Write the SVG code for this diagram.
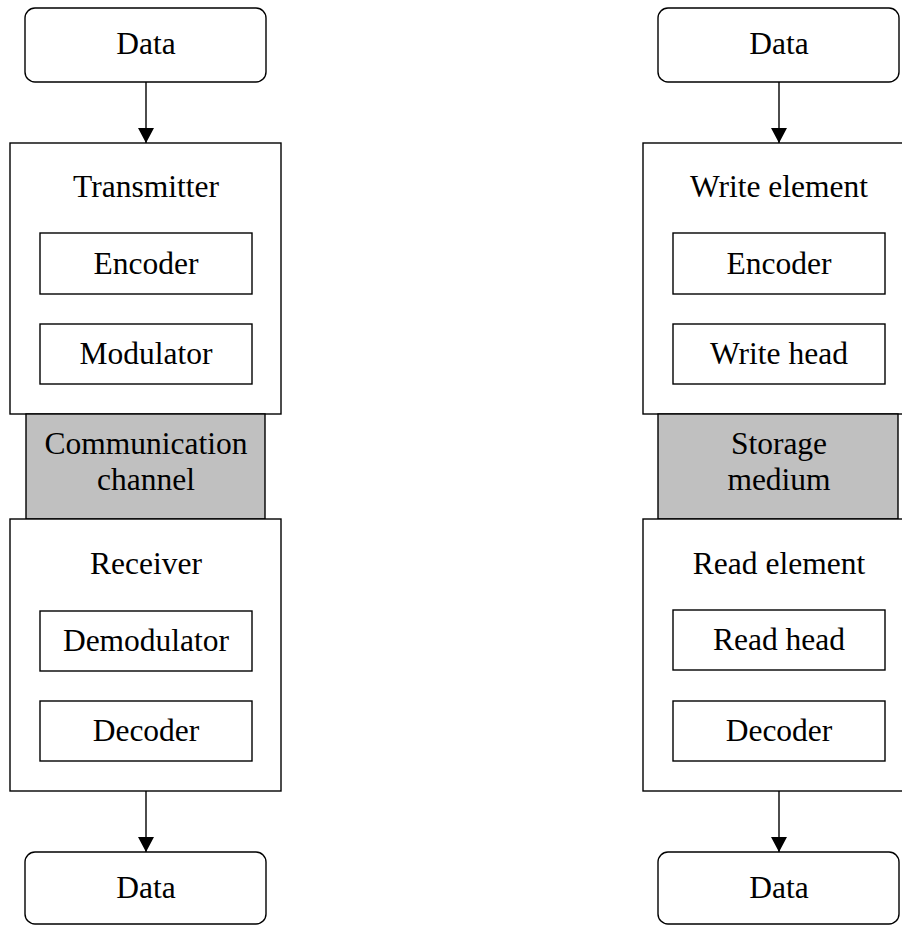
<svg xmlns="http://www.w3.org/2000/svg" width="902" height="926" viewBox="0 0 902 926">
  <style>
    .box { fill: #ffffff; stroke: #000000; stroke-width: 1.4; }
    .term { fill: #ffffff; stroke: #000000; stroke-width: 1.4; }
    .medium { fill: #c0c0c0; stroke: #000000; stroke-width: 1.4; }
    .label { font-family: "Liberation Serif", "Times New Roman", serif; font-size: 31.5px; fill: #000000; text-anchor: middle; }
    .link { stroke: #000000; stroke-width: 1.4; fill: none; }
  </style>
  <defs>
    <marker id="arrow" viewBox="0 0 15 16" refX="15" refY="8" markerWidth="15" markerHeight="16" markerUnits="userSpaceOnUse" orient="auto">
      <path d="M0,0 L15,8 L0,16 Z" fill="#000000"/>
    </marker>
  </defs>
  <rect width="902" height="926" fill="#ffffff"/>

  <!-- Communication chain (left) -->
  <g id="tx-data-in">
    <rect class="term" x="25" y="8" width="241" height="74" rx="10"/>
    <text class="label" x="146" y="54">Data</text>
  </g>
  <g id="transmitter">
    <rect class="box" x="10" y="143" width="271" height="271"/>
    <text class="label" x="146" y="197">Transmitter</text>
  </g>
  <g id="tx-encoder">
    <rect class="box" x="40" y="233" width="212" height="61"/>
    <text class="label" x="146" y="274">Encoder</text>
  </g>
  <g id="modulator">
    <rect class="box" x="40" y="324" width="212" height="60"/>
    <text class="label" x="146" y="364">Modulator</text>
  </g>
  <g id="channel">
    <rect class="medium" x="26" y="414" width="239" height="105"/>
    <text class="label" x="146" y="454">Communication</text>
    <text class="label" x="146" y="490">channel</text>
  </g>
  <g id="receiver">
    <rect class="box" x="10" y="519" width="271" height="272"/>
    <text class="label" x="146" y="574">Receiver</text>
  </g>
  <g id="demodulator">
    <rect class="box" x="40" y="611" width="212" height="60"/>
    <text class="label" x="146" y="651">Demodulator</text>
  </g>
  <g id="rx-decoder">
    <rect class="box" x="40" y="701" width="212" height="60"/>
    <text class="label" x="146" y="741">Decoder</text>
  </g>
  <g id="rx-data-out">
    <rect class="term" x="25" y="852" width="241" height="72" rx="10"/>
    <text class="label" x="146" y="898">Data</text>
  </g>

  <!-- Storage chain (right) -->
  <g id="wr-data-in">
    <rect class="term" x="658" y="8" width="241" height="74" rx="10"/>
    <text class="label" x="779" y="54">Data</text>
  </g>
  <g id="write-element">
    <rect class="box" x="643" y="143" width="271" height="271"/>
    <text class="label" x="779" y="197">Write element</text>
  </g>
  <g id="wr-encoder">
    <rect class="box" x="673" y="233" width="212" height="61"/>
    <text class="label" x="779" y="274">Encoder</text>
  </g>
  <g id="write-head">
    <rect class="box" x="673" y="324" width="212" height="60"/>
    <text class="label" x="779" y="364">Write head</text>
  </g>
  <g id="storage">
    <rect class="medium" x="658" y="414" width="240" height="105"/>
    <text class="label" x="779" y="454">Storage</text>
    <text class="label" x="779" y="490">medium</text>
  </g>
  <g id="read-element">
    <rect class="box" x="643" y="519" width="271" height="272"/>
    <text class="label" x="779" y="574">Read element</text>
  </g>
  <g id="read-head">
    <rect class="box" x="673" y="610" width="212" height="60"/>
    <text class="label" x="779" y="650">Read head</text>
  </g>
  <g id="rd-decoder">
    <rect class="box" x="673" y="701" width="212" height="60"/>
    <text class="label" x="779" y="741">Decoder</text>
  </g>
  <g id="rd-data-out">
    <rect class="term" x="658" y="852" width="241" height="72" rx="10"/>
    <text class="label" x="779" y="898">Data</text>
  </g>

  <!-- Connectors -->
  <g id="connectors">
    <line class="link" x1="146" y1="82" x2="146" y2="143" marker-end="url(#arrow)"/>
    <line class="link" x1="146" y1="791" x2="146" y2="852" marker-end="url(#arrow)"/>
    <line class="link" x1="779" y1="82" x2="779" y2="143" marker-end="url(#arrow)"/>
    <line class="link" x1="779" y1="791" x2="779" y2="852" marker-end="url(#arrow)"/>
  </g>
</svg>
